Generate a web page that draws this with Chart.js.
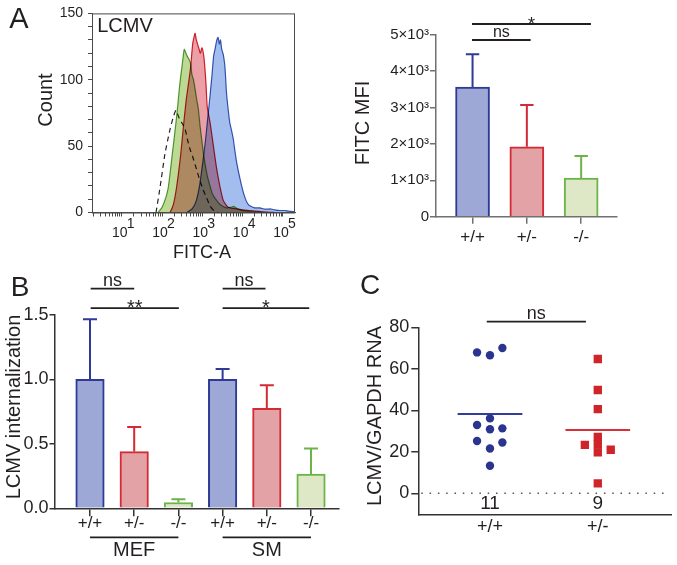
<!DOCTYPE html>
<html>
<head>
<meta charset="utf-8">
<script src="https://cdn.jsdelivr.net/npm/chart.js@4"></script>
<style>
  body { margin: 0; background: #fff; }
  #fig { position: relative; width: 677px; height: 565px; overflow: hidden; font-family: 'Liberation Sans', Arial, sans-serif; color: #231f20; }
  #fig canvas { position: absolute; }
  .txt { position: absolute; white-space: nowrap; line-height: 1; transform: translate(-50%, -50%); }
  .rot { transform: translate(-50%, -50%) rotate(-90deg); }
</style>
</head>
<body>
<div id="fig">
  <canvas id="histo" width="300" height="270" style="left:0;top:0"></canvas>
  <canvas id="mfi" width="347" height="270" style="left:330px;top:0"></canvas>
  <canvas id="intern" width="340" height="310" style="left:0;top:255px"></canvas>
  <canvas id="rna" width="337" height="285" style="left:340px;top:280px"></canvas>

  <div class="txt" style="left:19px;top:18px;font-size:29px">A</div>
  <div class="txt" style="left:20px;top:287px;font-size:28px">B</div>
  <div class="txt" style="left:370px;top:285px;font-size:28px">C</div>

  <div class="txt" style="left:125px;top:25px;font-size:20px">LCMV</div>
  <div class="txt rot" style="left:45px;top:100px;font-size:20px">Count</div>
  <div class="txt" style="left:202px;top:252px;font-size:18px">FITC-A</div>
  <div class="txt rot" style="left:362px;top:123px;font-size:20px">FITC MFI</div>
  <div class="txt rot" style="left:13px;top:407px;font-size:20px">LCMV internalization</div>
  <div class="txt rot" style="left:374px;top:416px;font-size:20px">LCMV/GAPDH RNA</div>
</div>

<script>
const FONT = "'Liberation Sans', Arial, sans-serif";
const INK = '#231f20';

// A, histogram: [log10 FITC-A, count]
const wtHist = [[2.62,0],[2.75,3],[2.85,9],[2.94,22],[3.02,40],[3.08,55],[3.13,70],[3.19,88],[3.24,104],[3.28,118],[3.32,124],[3.36,130],[3.39,132],[3.42,127],[3.45,130],[3.48,123],[3.52,119],[3.56,110],[3.6,90],[3.64,78],[3.68,68],[3.73,61],[3.77,55],[3.81,46],[3.85,38],[3.93,26],[4.0,17],[4.06,11],[4.12,7],[4.18,5],[4.3,3.5],[4.43,3.5],[4.55,2.5],[4.68,2.7],[4.8,2],[4.93,1.5],[5.05,1.5],[5.15,1],[5.3,0.6]];
const hetHist = [[2.2,0],[2.28,6],[2.36,19],[2.46,43],[2.54,68],[2.6,85],[2.66,98],[2.71,110],[2.76,127],[2.8,133],[2.82,135],[2.85,130],[2.88,127],[2.92,123],[2.95,120],[2.99,124],[3.03,119],[3.06,110],[3.09,97],[3.12,80],[3.19,68],[3.27,51],[3.35,34],[3.44,19],[3.52,9],[3.64,4],[3.85,2.7],[4.0,2],[4.18,1.5],[4.4,0.8],[4.6,0.3],[4.8,0]];
const koHist = [[1.9,0],[2.0,4],[2.1,12],[2.154,19],[2.2,30],[2.253,44],[2.3,56],[2.345,68],[2.39,81],[2.427,93],[2.46,102],[2.494,110],[2.53,119],[2.55,123],[2.58,121],[2.62,118],[2.66,116],[2.71,112],[2.74,104],[2.78,100],[2.82,93],[2.86,85],[2.9,78],[2.94,66],[2.98,56],[3.02,46],[3.06,38],[3.12,28],[3.19,20],[3.25,14],[3.31,11],[3.44,6],[3.6,3.5],[3.7,3.8],[3.78,4.6],[3.86,3],[3.95,1.8],[4.1,1],[4.3,0.4],[4.5,0]];
const ctrlHist = [[1.85,0],[1.95,19],[2.07,44],[2.15,56],[2.2,63],[2.28,72],[2.345,77],[2.4,73],[2.44,70],[2.5,67],[2.57,63],[2.63,55],[2.69,48],[2.76,42],[2.82,36],[2.88,30],[2.94,24],[3.02,17],[3.107,11],[3.19,5],[3.3,1],[3.4,0]];
const histMajorExp = [1, 2, 3, 4, 5];

// A, MFI bars
const genotypes = ['+/+', '+/-', '-/-'];
const mfiMean = [3560, 1920, 1060];
const mfiErr = [900, 1150, 610];
const mfiSigFrom = [-0.01, -0.01];
const mfiSigTo = [1.07, 2.18];
const mfiSigLevel = [4854, 5294];
const mfiSigText = ['ns', '*'];

// B, internalization
const internGenotypes = ['+/+', '+/-', '-/-', '+/+', '+/-', '-/-'];
const internMean = [1.0, 0.44, 0.045, 1.0, 0.775, 0.265];
const internErr = [0.467, 0.19, 0.025, 0.08, 0.18, 0.2];
const cellTypes = ['MEF', 'SM'];
const cellFrom = [0, 3];
const cellTo = [2, 5];
const internSigFrom = [0.015, 3.0, 0.015, 3.0];
const internSigTo = [1.0, 3.97, 2.01, 4.96];
const internSigLevel = [1.705, 1.705, 1.553, 1.553];
const internSigText = ['ns', 'ns', '**', '*'];

// C, RNA
const rnaGroups = ['+/+', '+/-'];
const rnaN = ['11', '9'];
const wtRna = [67.9, 66.5, 70.0, 36.1, 32.9, 30.9, 31.3, 25.2, 24.5, 21.6, 13.3];
const wtJitter = [-0.12, 0, 0.115, 0, -0.12, 0, 0.115, -0.12, 0.115, 0, 0];
const hetRna = [64.7, 49.8, 40.6, 27.2, 23.5, 19.7, 23.3, 21.0, 4.8];
const hetJitter = [0, 0, 0, 0, 0, 0, -0.12, 0.12, 0];
const rnaMean = [38.2, 30.5];
const rnaSigFrom = [-0.03];
const rnaSigTo = [0.89];
const rnaSigLevel = [82.7];
const rnaSigText = ['ns'];

// styles
const fillCol = ['#9ea8d6', '#e2a2a6', '#dee8c6'];
const lineCol = ['#2e3a96', '#d42a33', '#6cb44a'];

const base = {
  responsive: false, animation: false, devicePixelRatio: 1,
  plugins: { legend: { display: false }, tooltip: { enabled: false } }
};
const pts = arr => arr.map(p => ({ x: p[0], y: p[1] }));

function errorBars(means, errs, colors, half) {
  return {
    id: 'errorBars',
    afterDatasetsDraw(chart) {
      const { ctx, scales: { x, y } } = chart;
      ctx.save();
      ctx.lineWidth = 2;
      means.forEach((m, i) => {
        const px = x.getPixelForValue(i);
        const y0 = y.getPixelForValue(m), y1 = y.getPixelForValue(m + errs[i]);
        ctx.strokeStyle = colors[i % colors.length];
        ctx.beginPath();
        ctx.moveTo(px, y0); ctx.lineTo(px, y1);
        ctx.moveTo(px - half, y1); ctx.lineTo(px + half, y1);
        ctx.stroke();
      });
      ctx.restore();
    }
  };
}

function sigBars(from, to, level, text, size) {
  return {
    id: 'sigBars',
    afterDraw(chart) {
      const { ctx, scales: { x, y } } = chart;
      ctx.save();
      ctx.strokeStyle = INK; ctx.fillStyle = INK; ctx.lineWidth = 1.8;
      ctx.textAlign = 'center'; ctx.textBaseline = 'alphabetic';
      from.forEach((f, i) => {
        const x0 = x.getPixelForValue(f), x1 = x.getPixelForValue(to[i]);
        const py = y.getPixelForValue(level[i]);
        ctx.beginPath(); ctx.moveTo(x0, py); ctx.lineTo(x1, py); ctx.stroke();
        const star = text[i].startsWith('*');
        ctx.font = `${star ? size + 2 : size}px ${FONT}`;
        ctx.fillText(text[i], (x0 + x1) / 2, star ? py + 6 : py - 3);
      });
      ctx.restore();
    }
  };
}

// ---------- A: histogram ----------
// fills are multiplied so overlaps darken like the original overlay
const multiply = {
  id: 'multiply',
  beforeDatasetsDraw(chart) { chart.ctx.save(); chart.ctx.globalCompositeOperation = 'multiply'; },
  afterDatasetsDraw(chart) { chart.ctx.restore(); }
};
const histFrame = {
  id: 'histFrame',
  afterDraw(chart) {
    const { ctx, chartArea: a, scales: { x } } = chart;
    ctx.save();
    ctx.strokeStyle = '#4a4a4a'; ctx.lineWidth = 1;
    ctx.strokeRect(a.left + 0.5, a.top + 0.5, a.right - a.left - 1, a.bottom - a.top);
    ctx.fillStyle = INK; ctx.font = `14px ${FONT}`; ctx.textBaseline = 'middle';
    histMajorExp.forEach(e => {
      const px = x.getPixelForValue(e);
      ctx.textAlign = 'center'; ctx.fillText('10', px - 2, a.bottom + 21);
      ctx.textAlign = 'left'; ctx.fillText(String(e), px + 5, a.bottom + 12);
    });
    ctx.restore();
  }
};
const logMinor = [];
for (let k = 0; k <= 5; k++) for (let m = 1; m <= 9; m++) {
  const v = k + Math.log10(m);
  if (v >= 0.26 && v <= 5.3) logMinor.push(v);
}
const histLine = (data, col, fill) => ({
  data: pts(data), borderColor: col, backgroundColor: fill, fill: fill ? 'origin' : false,
  borderWidth: 1.2, pointRadius: 0, tension: 0.2
});
new Chart(document.getElementById('histo'), {
  type: 'line',
  data: { datasets: [
    histLine(wtHist, '#3a5cb4', '#a3bdee'),
    histLine(hetHist, '#d8202c', '#eaa0a6'),
    histLine(koHist, '#5aa040', '#bcda94'),
    Object.assign(histLine(ctrlHist, '#222', null), { borderDash: [5, 4] })
  ] },
  options: Object.assign({}, base, {
    layout: { padding: { top: 9.5, right: 5 } },
    scales: {
      x: {
        type: 'linear', min: 0.26, max: 5.3,
        afterBuildTicks: s => { s.ticks = logMinor.map(v => ({ value: v })); },
        afterFit: s => { s.height = 57.5; },
        ticks: { display: false },
        grid: { drawOnChartArea: false, tickLength: 4, color: '#4a4a4a' },
        border: { color: '#4a4a4a', width: 1 }
      },
      y: {
        min: 0, max: 150,
        afterFit: s => { s.width = 92; },
        ticks: { stepSize: 10, autoSkip: false, padding: 5, color: INK,
                 font: { family: FONT, size: 14 },
                 callback: v => (v % 50 === 0 ? v : '') },
        grid: { drawOnChartArea: false, tickLength: 4, color: '#4a4a4a' },
        border: { color: '#4a4a4a', width: 1 }
      }
    }
  }),
  plugins: [multiply, histFrame]
});

// ---------- A: MFI bars ----------
const axisA = '#707070';
new Chart(document.getElementById('mfi'), {
  type: 'bar',
  data: { datasets: [{
    data: mfiMean.map((v, i) => ({ x: i, y: v })),
    backgroundColor: fillCol, borderColor: lineCol, borderWidth: 2,
    barThickness: 34, borderSkipped: 'bottom'
  }] },
  options: Object.assign({}, base, {
    layout: { padding: { top: 34.7, right: 60 } },
    scales: {
      x: {
        type: 'linear', min: -0.673, max: 2.66, offset: false,
        afterBuildTicks: s => { s.ticks = genotypes.map((g, i) => ({ value: i })); },
        afterFit: s => { s.height = 53.3; },
        ticks: { callback: v => genotypes[v], color: INK, padding: 3, font: { family: FONT, size: 17 } },
        grid: { drawOnChartArea: false, offset: false, tickLength: 7, color: axisA, lineWidth: 1.5 },
        border: { color: axisA, width: 1.5 }
      },
      y: {
        min: 0, max: 5000,
        afterFit: s => { s.width = 106; },
        ticks: { stepSize: 1000, padding: 1, color: INK, font: { family: FONT, size: 15 },
                 callback: v => (v === 0 ? '0' : (v / 1000) + '×10³') },
        grid: { drawOnChartArea: false, tickLength: 6, color: axisA, lineWidth: 1.5 },
        border: { color: axisA, width: 1.5 }
      }
    }
  }),
  plugins: [errorBars(mfiMean, mfiErr, lineCol, 6.7), sigBars(mfiSigFrom, mfiSigTo, mfiSigLevel, mfiSigText, 16)]
});

// ---------- B: internalization ----------
const axisB = '#333';
const cellGroups = {
  id: 'cellGroups',
  afterDraw(chart) {
    const { ctx, chartArea: a, scales: { x } } = chart;
    ctx.save();
    ctx.strokeStyle = INK; ctx.fillStyle = INK; ctx.lineWidth = 1.8;
    ctx.font = `20px ${FONT}`; ctx.textAlign = 'center'; ctx.textBaseline = 'middle';
    cellTypes.forEach((c, i) => {
      const x0 = x.getPixelForValue(cellFrom[i]), x1 = x.getPixelForValue(cellTo[i]);
      ctx.beginPath(); ctx.moveTo(x0, a.bottom + 29); ctx.lineTo(x1, a.bottom + 29); ctx.stroke();
      ctx.fillText(c, (x0 + x1) / 2, a.bottom + 42);
    });
    ctx.restore();
  }
};
new Chart(document.getElementById('intern'), {
  type: 'bar',
  data: { datasets: [{
    data: internMean.map((v, i) => ({ x: i, y: v })),
    backgroundColor: internMean.map((v, i) => fillCol[i % 3]),
    borderColor: internMean.map((v, i) => lineCol[i % 3]),
    borderWidth: 2, barThickness: 28.5, borderSkipped: 'bottom'
  }] },
  options: Object.assign({}, base, {
    layout: { padding: { top: 60, right: 1 } },
    scales: {
      x: {
        type: 'linear', min: -0.803, max: 5.633, offset: false,
        afterBuildTicks: s => { s.ticks = internGenotypes.map((g, i) => ({ value: i })); },
        afterFit: s => { s.height = 56.7; },
        ticks: { callback: v => internGenotypes[v], color: INK, padding: -3, font: { family: FONT, size: 17 } },
        grid: { drawOnChartArea: false, offset: false, tickLength: 8, color: axisB, lineWidth: 1.5 },
        border: { color: axisB, width: 1.5 }
      },
      y: {
        min: 0, max: 1.5,
        afterFit: s => { s.width = 54.5; },
        ticks: { stepSize: 0.5, padding: 1, color: INK, font: { family: FONT, size: 18 },
                 callback: v => v.toFixed(1) },
        grid: { drawOnChartArea: false, tickLength: 5, color: axisB, lineWidth: 1.5 },
        border: { color: axisB, width: 1.5 }
      }
    }
  }),
  plugins: [errorBars(internMean, internErr, lineCol, 7), cellGroups,
            sigBars(internSigFrom, internSigTo, internSigLevel, internSigText, 18)]
});

// ---------- C: RNA ----------
const meanHalf = 0.3;
const rnaExtras = {
  id: 'rnaExtras',
  beforeDatasetsDraw(chart) {
    const { ctx, chartArea: a, scales: { y } } = chart;
    const py = y.getPixelForValue(0);
    ctx.save();
    ctx.strokeStyle = '#555'; ctx.lineWidth = 1.5; ctx.setLineDash([1.5, 6.8]);
    ctx.beginPath(); ctx.moveTo(a.left + 3, py); ctx.lineTo(a.right - 6, py); ctx.stroke();
    ctx.restore();
  },
  afterDraw(chart) {
    const { ctx, chartArea: a, scales: { x } } = chart;
    ctx.save();
    ctx.fillStyle = INK; ctx.font = `19px ${FONT}`;
    ctx.textAlign = 'center'; ctx.textBaseline = 'middle';
    rnaN.forEach((n, i) => ctx.fillText(n, x.getPixelForValue(i), a.bottom - 11.5));
    ctx.restore();
  }
};
new Chart(document.getElementById('rna'), {
  type: 'scatter',
  data: { datasets: [
    { data: wtRna.map((v, i) => ({ x: wtJitter[i], y: v })), pointStyle: 'circle',
      pointRadius: 4.2, backgroundColor: '#2b3590', borderWidth: 0 },
    { data: hetRna.map((v, i) => ({ x: 1 + hetJitter[i], y: v })), pointStyle: 'rect',
      pointRadius: 5.9, backgroundColor: '#d0242b', borderWidth: 0 },
    { type: 'line', data: [{ x: -meanHalf, y: rnaMean[0] }, { x: meanHalf, y: rnaMean[0] }],
      borderColor: '#323c9c', borderWidth: 2, pointRadius: 0 },
    { type: 'line', data: [{ x: 1 - meanHalf, y: rnaMean[1] }, { x: 1 + meanHalf, y: rnaMean[1] }],
      borderColor: '#d6303a', borderWidth: 2, pointRadius: 0 }
  ] },
  options: Object.assign({}, base, {
    layout: { padding: { top: 47.3, right: 0 } },
    scales: {
      x: {
        type: 'linear', min: -0.665, max: 1.68,
        afterBuildTicks: s => { s.ticks = rnaGroups.map((g, i) => ({ value: i })); },
        afterFit: s => { s.height = 50; },
        ticks: { callback: v => rnaGroups[v], color: INK, padding: 1, font: { family: FONT, size: 18 } },
        grid: { display: true, drawOnChartArea: false, drawTicks: false },
        border: { color: axisB, width: 1.5 }
      },
      y: {
        min: -10.46, max: 80,
        afterBuildTicks: s => { s.ticks = [0, 20, 40, 60, 80].map(v => ({ value: v })); },
        afterFit: s => { s.width = 78.3; },
        ticks: { padding: 2, color: INK, font: { family: FONT, size: 18 } },
        grid: { drawOnChartArea: false, tickLength: 7, color: axisB, lineWidth: 1.5 },
        border: { color: axisB, width: 1.5 }
      }
    }
  }),
  plugins: [rnaExtras, sigBars(rnaSigFrom, rnaSigTo, rnaSigLevel, rnaSigText, 18)]
});
</script>
</body>
</html>
